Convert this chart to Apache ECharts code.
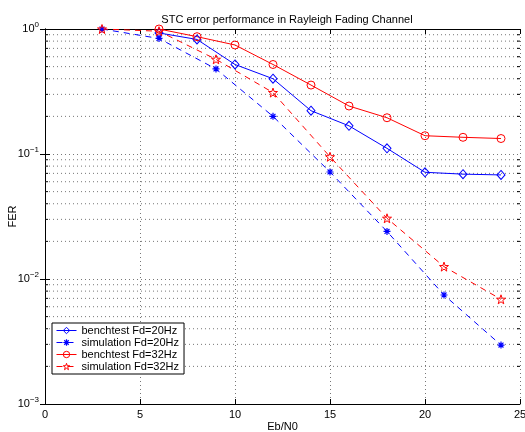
<!DOCTYPE html>
<html>
<head>
<meta charset="utf-8">
<script src="https://cdn.jsdelivr.net/npm/echarts@6/dist/echarts.min.js"></script>
<style>
html,body{margin:0;padding:0;background:#fff;}
#main{width:525px;height:432px;}
</style>
</head>
<body>
<div id="main"></div>
<script>
// 数据：Eb/N0 与 FER
var benchX=[6,8,10,12,14,16,18,20,22,24];
var bench20=[0.93,0.825,0.52,0.40,0.222,0.168,0.111,0.0714,0.069,0.068];
var bench32=[1.0,0.868,0.745,0.52,0.356,0.242,0.195,0.140,0.136,0.133];
var simX=[3,6,9,12,15,18,21,24];
var sim20=[1.0,0.84,0.479,0.20,0.0718,0.024,0.00745,0.00296];
var sim32=[1.0,0.96,0.572,0.31,0.095,0.0306,0.01256,0.00688];
var seriesNames=["benchtest Fd=20Hz","simulation Fd=20Hz","benchtest Fd=32Hz","simulation Fd=32Hz"];
var yTickLabels={"1":"0","0.1":"-1","0.01":"-2","0.001":"-3"};

//次刻度 2..9 x 10^k
var minorTicks=[];
for(var k=-3;k<0;k++){
	for(var m=2;m<=9;m++){
		minorTicks.push(+(m*Math.pow(10,k)).toPrecision(3));
	}
}

function pairs(xs,ys){
	var out=[];
	for(var i=0;i<xs.length;i++){out.push([xs[i],ys[i]]);}
	return out;
}

var starPath="path://M0,-10L2.35,-3.24L9.51,-3.09L3.8,1.24L5.88,8.09L0,4L-5.88,8.09L-3.8,1.24L-9.51,-3.09L-2.35,-3.24Z";
var asteriskPath="path://M0,-10L0,10M-10,0L10,0M-7,-7L7,7M-7,7L7,-7";
var clear='rgba(255,255,255,0)';
var blue='#0000ff',red='#ff0000';

var myChart=echarts.init(document.getElementById('main'));
var font="Liberation Sans, Arial, sans-serif";

var option={
	animation:false,
	title:{
		text:"STC error performance in Rayleigh Fading Channel",
		left:282,textAlign:'center',top:9,
		textStyle:{fontFamily:font,fontSize:11,fontWeight:'normal',color:'#000'}
	},
	grid:{left:45,right:5,top:29,bottom:28,outerBoundsMode:'none',containLabel:false},
	legend:{
		orient:'vertical',left:52,top:323,
		backgroundColor:'#fff',borderColor:'#000',borderWidth:1,
		padding:[2,5,2,4],itemGap:1,itemWidth:20,itemHeight:8,
		textStyle:{fontFamily:font,fontSize:11,color:'#000'},
		lineStyle:{width:1},
		data:[
			{name:seriesNames[0],itemStyle:{color:clear,borderColor:blue,borderWidth:1}},
			{name:seriesNames[1],itemStyle:{color:blue,borderColor:blue,borderWidth:1.2}},
			{name:seriesNames[2],itemStyle:{color:clear,borderColor:red,borderWidth:1}},
			{name:seriesNames[3],itemStyle:{color:clear,borderColor:red,borderWidth:1}}
		]
	},
	xAxis:[{
		type:'value',min:0,max:25,interval:5,
		name:'Eb/N0',nameLocation:'middle',nameGap:17,nameMoveOverlap:false,
		nameTextStyle:{fontFamily:font,fontSize:11,color:'#000'},
		axisLine:{lineStyle:{color:'#000',width:1}},
		axisTick:{inside:true,length:5,lineStyle:{color:'#000'}},
		axisLabel:{fontFamily:font,fontSize:11,color:'#000',margin:5},
		splitLine:{show:true,lineStyle:{color:'#777',type:[1,3]}}
	},{
		type:'value',min:0,max:25,interval:5,position:'top',
		axisLine:{show:true,lineStyle:{color:'#000',width:1}},
		axisTick:{inside:true,length:5,lineStyle:{color:'#000'}},
		axisLabel:{show:false},splitLine:{show:false}
	}],
	yAxis:[{
		type:'log',logBase:10,min:0.001,max:1,
		name:'FER',nameLocation:'middle',nameGap:27,nameMoveOverlap:false,
		nameTextStyle:{fontFamily:font,fontSize:11,color:'#000'},
		axisLine:{show:true,lineStyle:{color:'#000',width:1}},
		axisTick:{inside:true,length:5,lineStyle:{color:'#000'}},
		axisLabel:{
			margin:6,
			formatter:function(v){
				var e=yTickLabels[String(v)];
				if(e===undefined){e=String(Math.round(Math.log10(v)));}
				return '{b|10}{s|'+e.replace('-','\u2212')+'}';
			},
			rich:{
				b:{fontFamily:font,fontSize:11,color:'#000'},
				s:{fontFamily:font,fontSize:8,color:'#000',padding:[0,0,8,0]}
			}
		},
		splitLine:{show:true,lineStyle:{color:'#777',type:[1,3]}}
	},{
		type:'log',logBase:10,min:0.001,max:1,position:'right',
		axisLine:{show:true,lineStyle:{color:'#000',width:1}},
		axisTick:{inside:true,length:5,lineStyle:{color:'#000'}},
		axisLabel:{show:false},splitLine:{show:false}
	}],
	series:[{
		//次网格线与次刻度
		type:'custom',silent:true,z:1,
		data:minorTicks.map(function(v){return [0,v];}),
		renderItem:function(params,api){
			var v=api.value(1);
			var p0=api.coord([0,v]);
			var p1=api.coord([25,v]);
			return {type:'group',children:[
				{type:'line',shape:{x1:p0[0],y1:p0[1],x2:p1[0],y2:p1[1]},style:{stroke:'#777',lineWidth:1,lineDash:[1,3]}},
				{type:'line',shape:{x1:p0[0],y1:p0[1],x2:p0[0]+3,y2:p0[1]},style:{stroke:'#000',lineWidth:1}},
				{type:'line',shape:{x1:p1[0]-3,y1:p1[1],x2:p1[0],y2:p1[1]},style:{stroke:'#000',lineWidth:1}}
			]};
		}
	},{
		name:seriesNames[0],type:'line',z:3,
		data:pairs(benchX,bench20),
		symbol:'diamond',symbolSize:[8,9],
		lineStyle:{color:blue,width:1},
		itemStyle:{color:clear,borderColor:blue,borderWidth:1}
	},{
		name:seriesNames[1],type:'line',z:3,
		data:pairs(simX,sim20),
		symbol:asteriskPath,symbolSize:7,
		lineStyle:{color:blue,width:1,type:[6,5]},
		itemStyle:{color:blue,borderColor:blue,borderWidth:1.2}
	},{
		name:seriesNames[2],type:'line',z:3,
		data:pairs(benchX,bench32),
		symbol:'circle',symbolSize:8,
		lineStyle:{color:red,width:1},
		itemStyle:{color:clear,borderColor:red,borderWidth:1}
	},{
		name:seriesNames[3],type:'line',z:3,
		data:pairs(simX,sim32),
		symbol:starPath,symbolSize:9,
		lineStyle:{color:red,width:1,type:[6,5]},
		itemStyle:{color:clear,borderColor:red,borderWidth:1}
	}]
};

myChart.setOption(option);
</script>
</body>
</html>
